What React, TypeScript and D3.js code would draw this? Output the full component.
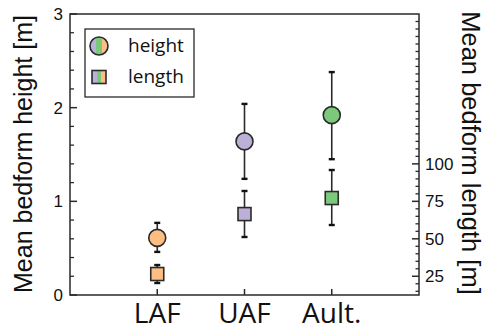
import React from "react";
import * as d3 from "d3";

const categories = ["LAF", "UAF", "Ault."];
const colors = ["#fdbe84", "#bdb0d8", "#7cc97b"];
const heightMean = [0.61, 1.64, 1.92];
const heightLow = [0.46, 1.24, 1.45];
const heightHigh = [0.77, 2.04, 2.38];
const lengthMean = [26.5, 66.5, 77.2];
const lengthLow = [20.5, 51.2, 59.2];
const lengthHigh = [32.5, 81.9, 95.9];
const leftTicks = [0, 1, 2, 3];
const rightTicks = [25, 50, 75, 100];
const legendLabels = ["height", "length"];

const W = 488, H = 331;
const L = 70, R = 419, T = 14, B = 295;

export default function App() {
  const x = d3.scaleLinear().domain([0, 4]).range([L, R]);
  const yL = d3.scaleLinear().domain([0, 3]).range([B, T]);
  const yR = d3.scaleLinear().domain([12.5, 200]).range([B, T]);
  const ink = "#2a2a2a";
  const minorL = d3.range(0, 3.001, 0.2).filter((v) => Math.abs(v - Math.round(v)) > 1e-6);
  const minorR = d3.range(15, 196, 5).filter((v) => !rightTicks.includes(v));
  const sq = 13, rad = 8.5, cap = 3;

  const errBar = (cx: number, y1: number, y2: number, key: string) => (
    <g key={key}>
      <line x1={cx} x2={cx} y1={y1} y2={y2} stroke={ink} strokeWidth={1.6} />
      <line x1={cx - cap} x2={cx + cap} y1={y1} y2={y1} stroke="#111" strokeWidth={2.4} />
      <line x1={cx - cap} x2={cx + cap} y1={y2} y2={y2} stroke="#111" strokeWidth={2.4} />
    </g>
  );

  return (
    <svg width={W} height={H} style={{ position: "absolute", left: 0, top: 0 }}>
      <defs>
        <linearGradient id="stripes" x1="0" x2="1" y1="0" y2="0">
          <stop offset="0" stopColor={colors[1]} />
          <stop offset="0.3333" stopColor={colors[1]} />
          <stop offset="0.3333" stopColor={colors[2]} />
          <stop offset="0.6667" stopColor={colors[2]} />
          <stop offset="0.6667" stopColor={colors[0]} />
          <stop offset="1" stopColor={colors[0]} />
        </linearGradient>
      </defs>
      <rect x={0} y={0} width={W} height={H} fill="#fff" />
      {/* frame */}
      <rect x={L} y={T} width={R - L} height={B - T} fill="none" stroke={ink} strokeWidth={1.5} />
      {/* left ticks */}
      {leftTicks.map((v) => (
        <g key={"lt" + v}>
          <line x1={L} x2={L + 7} y1={yL(v)} y2={yL(v)} stroke={ink} strokeWidth={1.5} />
          <text x={63} y={yL(v)} dy="0.36em" textAnchor="end" fontFamily="Liberation Sans, Arial, sans-serif" fontSize={17} fill="#111">{v}</text>
        </g>
      ))}
      {minorL.map((v) => (
        <line key={"lm" + v} x1={L} x2={L + 4} y1={yL(v)} y2={yL(v)} stroke={ink} strokeWidth={1.3} />
      ))}
      {/* right ticks */}
      {rightTicks.map((v) => (
        <g key={"rt" + v}>
          <line x1={R} x2={R - 7} y1={yR(v)} y2={yR(v)} stroke={ink} strokeWidth={1.5} />
          <text x={425} y={yR(v)} dy="0.36em" textAnchor="start" fontFamily="Liberation Sans, Arial, sans-serif" fontSize={17} fill="#111">{v}</text>
        </g>
      ))}
      {minorR.map((v) => (
        <line key={"rm" + v} x1={R} x2={R - 3.5} y1={yR(v)} y2={yR(v)} stroke={ink} strokeWidth={1.3} />
      ))}
      {/* bottom ticks */}
      {categories.map((c, i) => (
        <g key={"xt" + c}>
          <line x1={x(i + 1)} x2={x(i + 1)} y1={B} y2={B - 6} stroke={ink} strokeWidth={1.5} />
          <text x={x(i + 1)} y={323} textAnchor="middle" fontFamily="Open Sans, sans-serif" fontSize={28} fill="#111">{c}</text>
        </g>
      ))}
      {/* axis titles */}
      <text transform={`translate(32,154) rotate(-90)`} textAnchor="middle" fontFamily="Liberation Sans, Arial, sans-serif" fontSize={25} fill="#111">Mean bedform height [m]</text>
      <text transform={`translate(462,153) rotate(90)`} textAnchor="middle" fontFamily="Liberation Sans, Arial, sans-serif" fontSize={25.5} fill="#111">Mean bedform length [m]</text>
      {/* data */}
      {categories.map((c, i) => {
        const cx = x(i + 1);
        return (
          <g key={"d" + c}>
            {errBar(cx, yL(heightHigh[i]), yL(heightLow[i]), "eh" + i)}
            {errBar(cx, yR(lengthHigh[i]), yR(lengthLow[i]), "el" + i)}
            <circle cx={cx} cy={yL(heightMean[i])} r={rad} fill={colors[i]} stroke={ink} strokeWidth={1.6} />
            <rect x={cx - sq / 2} y={yR(lengthMean[i]) - sq / 2} width={sq} height={sq} fill={colors[i]} stroke={ink} strokeWidth={1.6} />
          </g>
        );
      })}
      {/* legend */}
      <rect x={85} y={29} width={109} height={68} fill="#fff" stroke={ink} strokeWidth={1.3} />
      <circle cx={99} cy={46} r={9} fill="url(#stripes)" stroke={ink} strokeWidth={1.6} />
      <rect x={99 - 7} y={77 - 6.5} width={14} height={13} fill="url(#stripes)" stroke={ink} strokeWidth={1.6} />
      {legendLabels.map((t, i) => (
        <text key={t} x={128} y={[46, 77][i]} dy="0.33em" fontFamily="Open Sans, sans-serif" fontSize={19} fill="#111">{t}</text>
      ))}
    </svg>
  );
}
